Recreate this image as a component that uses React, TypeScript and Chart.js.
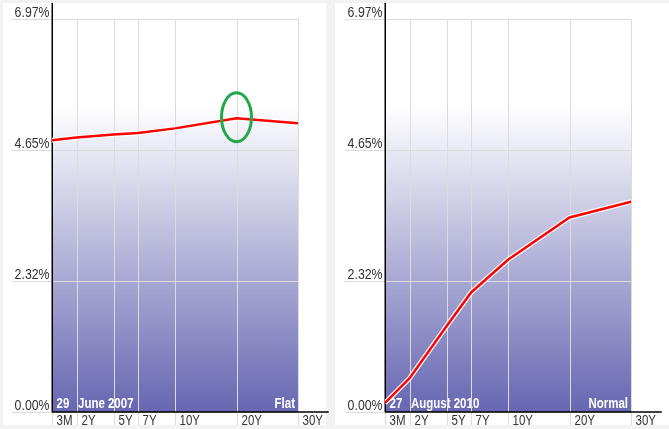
import React, { useEffect, useRef } from 'react';
import { Chart, registerables } from 'chart.js';

Chart.register(...registerables);

// ---- data ----
const tenors = ['3M', '2Y', '5Y', '7Y', '10Y', '20Y', '30Y'];
// position of each tenor along the (non-uniform) maturity axis
const tenorAxisPos = [0, 2, 5, 7, 10, 15, 20];
const yields2007 = [4.82, 4.87, 4.92, 4.95, 5.03, 5.21, 5.12];
const yields2010 = [0.16, 0.6, 1.52, 2.12, 2.7, 3.45, 3.73];
const yMax = 6.97;
const yTicks = [0, yMax / 3, (2 * yMax) / 3, yMax];
const yTickLabels = yTicks.map((v) => v.toFixed(2) + '%');
const xMax = 22.5;

const PAGE_BG = '#f2f2f2';
const FONT = "'Liberation Sans', Arial, sans-serif";
const NARROW_X = 0.82; // condensed text, like Arial Narrow

type PanelProps = {
  values: number[];
  day: string;
  monthYear: string;
  shape: string;
  left: number;
  width: number;
  panelWidth: number;
  axisLeft: number;
  padRight: number;
  highlight?: number;
};

function drawText(
  ctx: CanvasRenderingContext2D,
  text: string,
  x: number,
  y: number,
  align: CanvasTextAlign,
  font: string,
  color: string
) {
  ctx.save();
  ctx.font = font;
  ctx.fillStyle = color;
  ctx.textAlign = align;
  ctx.textBaseline = 'alphabetic';
  ctx.translate(x, y);
  ctx.scale(NARROW_X, 1);
  ctx.fillText(text, 0, 0);
  ctx.restore();
}

function YieldPanel(props: PanelProps) {
  const ref = useRef<HTMLCanvasElement>(null);
  const H = 422;

  useEffect(() => {
    const { values, day, monthYear, shape, panelWidth, axisLeft, padRight, highlight } = props;
    const pts = tenorAxisPos.map((p, i) => ({ x: p, y: values[i] }));

    const panelPlugin = {
      id: 'panel',
      beforeDraw(chart: any) {
        const { ctx, chartArea: ca } = chart;
        const x = chart.scales.x;
        const y = chart.scales.y;
        const W = chart.width;
        const h = chart.height;
        ctx.save();
        ctx.fillStyle = PAGE_BG;
        ctx.fillRect(0, 0, W, h);
        ctx.fillStyle = '#ffffff';
        ctx.fillRect(0, 0, panelWidth, h);

        const gx0 = x.getPixelForValue(tenorAxisPos[0]);
        const gx1 = x.getPixelForValue(tenorAxisPos[tenorAxisPos.length - 1]);
        const g = ctx.createLinearGradient(0, ca.top, 0, ca.bottom);
        g.addColorStop(0, '#ffffff');
        g.addColorStop(0.22, '#ffffff');
        g.addColorStop(1, 'rgb(102,102,178)');
        ctx.fillStyle = g;
        ctx.fillRect(gx0, ca.top, gx1 - gx0, ca.bottom - ca.top);

        // date + curve shape labels
        const bold = `bold 14px ${FONT}`;
        drawText(ctx, day, ca.left + 4.5, ca.bottom - 4.5, 'left', bold, '#ffffff');
        drawText(ctx, monthYear, ca.left + 26, ca.bottom - 4.5, 'left', bold, '#ffffff');
        drawText(ctx, shape, gx1 - 3, ca.bottom - 4.5, 'right', bold, '#ffffff');

        // grid
        ctx.strokeStyle = '#dcdcdc';
        ctx.lineWidth = 1;
        ctx.beginPath();
        yTicks.forEach((v) => {
          const py = Math.round(y.getPixelForValue(v)) + 0.5;
          ctx.moveTo(ca.left - 40, py);
          ctx.lineTo(gx1, py);
        });
        tenorAxisPos.forEach((v) => {
          const px = Math.round(x.getPixelForValue(v)) + 0.5;
          ctx.moveTo(px, ca.top);
          ctx.lineTo(px, h);
        });
        ctx.stroke();

        // tick labels
        const tickFontY = `15px ${FONT}`;
        yTicks.forEach((v, i) => {
          const py = Math.round(y.getPixelForValue(v));
          drawText(ctx, yTickLabels[i], ca.left - 2.5, py - 2, 'right', tickFontY, '#333333');
        });
        const tickFontX = `14px ${FONT}`;
        tenorAxisPos.forEach((v, i) => {
          const px = Math.round(x.getPixelForValue(v));
          drawText(ctx, tenors[i], px + 4.5, ca.bottom + 12.5, 'left', tickFontX, '#333333');
        });

        // axis lines
        ctx.strokeStyle = '#000000';
        ctx.lineWidth = 1.5;
        ctx.beginPath();
        ctx.moveTo(ca.left + 0.25, 0);
        ctx.lineTo(ca.left + 0.25, ca.bottom);
        ctx.moveTo(ca.left, ca.bottom);
        ctx.lineTo(ca.right, ca.bottom);
        ctx.stroke();
        ctx.restore();
      },
      afterDatasetsDraw(chart: any) {
        if (highlight === undefined) return;
        const { ctx } = chart;
        const cx = chart.scales.x.getPixelForValue(tenorAxisPos[highlight]);
        const cy = chart.scales.y.getPixelForValue(values[highlight]);
        ctx.save();
        ctx.strokeStyle = '#22a84b';
        ctx.lineWidth = 3;
        ctx.beginPath();
        ctx.ellipse(cx, cy - 1, 15, 24.5, 0, 0, Math.PI * 2);
        ctx.stroke();
        ctx.restore();
      },
    };

    const chart = new Chart(ref.current as HTMLCanvasElement, {
      type: 'line',
      data: {
        datasets: [
          {
            data: pts,
            borderColor: '#ff0000',
            borderWidth: 2.5,
            pointRadius: 0,
            tension: 0,
            order: 1,
          },
          {
            data: pts,
            borderColor: '#ffffff',
            borderWidth: 5,
            pointRadius: 0,
            tension: 0,
            order: 2,
          },
        ],
      },
      options: {
        animation: false,
        responsive: false,
        events: [],
        layout: { padding: { top: 16, right: padRight, left: 0, bottom: 0 } },
        plugins: { legend: { display: false }, tooltip: { enabled: false } },
        scales: {
          x: {
            type: 'linear',
            min: 0,
            max: xMax,
            grid: { display: false, drawTicks: false },
            border: { display: false },
            afterBuildTicks: (s: any) => {
              s.ticks = tenorAxisPos.map((v) => ({ value: v }));
            },
            afterFit: (s: any) => {
              s.height = 13;
            },
            ticks: { display: false },
          },
          y: {
            type: 'linear',
            min: 0,
            max: yMax,
            grid: { display: false, drawTicks: false },
            border: { display: false },
            afterBuildTicks: (s: any) => {
              s.ticks = yTicks.map((v) => ({ value: v }));
            },
            afterFit: (s: any) => {
              s.width = axisLeft;
            },
            ticks: { display: false },
          },
        },
      } as any,
      plugins: [panelPlugin],
    });
    return () => chart.destroy();
  }, []);

  return (
    <div style={{ position: 'absolute', left: props.left, top: 3, width: props.width, height: H }}>
      <canvas ref={ref} width={props.width} height={H} style={{ display: 'block', width: props.width, height: H }} />
    </div>
  );
}

export default function App() {
  return (
    <div
      style={{
        position: 'absolute',
        left: 0,
        top: 0,
        width: 669,
        height: 429,
        background: PAGE_BG,
        overflow: 'hidden',
      }}
    >
      <YieldPanel
        values={yields2007}
        day="29"
        monthYear="June 2007"
        shape="Flat"
        left={3}
        width={326}
        panelWidth={323}
        axisLeft={49}
        padRight={0.25}
        highlight={5}
      />
      <YieldPanel
        values={yields2010}
        day="27"
        monthYear="August 2010"
        shape="Normal"
        left={335}
        width={334}
        panelWidth={334}
        axisLeft={50}
        padRight={7.25}
      />
    </div>
  );
}
